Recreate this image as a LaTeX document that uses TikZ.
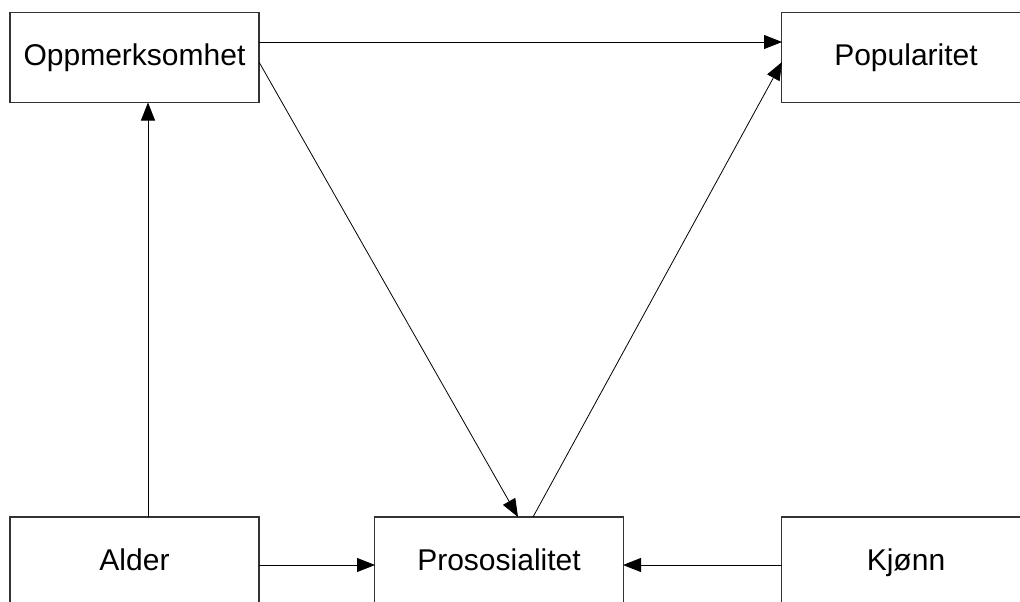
\documentclass[tikz,border=0pt]{standalone}
\usepackage{fontspec}
\setmainfont{Liberation Sans}
\usetikzlibrary{arrows.meta}
\tikzset{
  box/.style={draw=black!80, line width=1.1pt, fill=white, minimum width=249pt, minimum height=90pt, inner sep=0pt, text height=22pt, text depth=6pt, font=\fontsize{30}{35}\selectfont, text=black},
  arr/.style={draw=black, line width=0.8pt, -{Triangle[length=18pt,width=14pt]}}
}
\begin{document}
\begin{tikzpicture}[x=1pt,y=-1pt]
\useasboundingbox (0,0) rectangle (1020,602);
\begin{scope}
\clip (0,0) rectangle (1020,602);
\node[box] (opp) at (134.5,57.5) {Oppmerksomhet};
\node[box] (pop) at (906,57.5) {Popularitet};
\node[box] (ald) at (134.5,562) {Alder};
\node[box] (pro) at (499,562) {Prososialitet};
\node[box] (kjo) at (906,562) {Kjønn};
\coordinate (oppR1) at (259,42);
\coordinate (popL1) at (782,42);
\coordinate (oppR2) at (259,62);
\coordinate (proT1) at (518,517);
\coordinate (proT2) at (533,517);
\coordinate (popL2) at (782,62);
\coordinate (aldT) at (148,517);
\coordinate (oppB) at (148,102.5);
\coordinate (aldR) at (259,565);
\coordinate (proL) at (375,565);
\coordinate (kjoL) at (782,565);
\coordinate (proR) at (623,565);
\draw[arr] (oppR1) -- (popL1);
\draw[arr] (oppR2) -- (proT1);
\draw[arr] (proT2) -- (popL2);
\draw[arr] (aldT) -- (oppB);
\draw[arr] (aldR) -- (proL);
\draw[arr] (kjoL) -- (proR);
\end{scope}
\end{tikzpicture}
\end{document}
